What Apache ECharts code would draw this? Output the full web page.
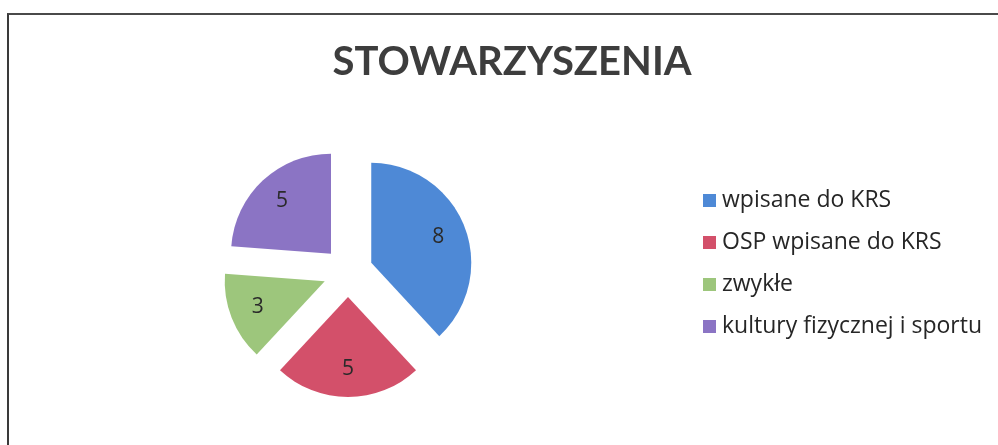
<!DOCTYPE html>
<html>
<head>
<meta charset="utf-8">
<script src="https://cdn.jsdelivr.net/npm/echarts@6/dist/echarts.min.js"></script>
<style>
html,body{margin:0;padding:0;background:#fff;}
#wrap{position:relative;width:998px;height:445px;overflow:hidden;}
#frame{position:absolute;left:7px;top:13px;width:1000px;height:500px;border-left:2px solid #3a3a3a;border-top:2px solid #4a4a4a;box-sizing:border-box;}
#chart{position:absolute;left:0;top:0;width:998px;height:445px;}
</style>
</head>
<body>
<div id="wrap"><div id="frame"></div><div id="chart"></div></div>
<script>
const titleText = 'STOWARZYSZENIA';
const categories = ['wpisane do KRS', 'OSP wpisane do KRS', 'zwykłe', 'kultury fizycznej i sportu'];
const values = [8, 5, 3, 5];
const colors = ['#4e89d6', '#d3506a', '#9dc67c', '#8b74c4'];

const chart = echarts.init(document.getElementById('chart'), null, {renderer: 'canvas'});
const mkData = (transparent) => categories.map((c, i) => ({
  name: c, value: values[i], selected: true,
  itemStyle: {color: transparent ? 'rgba(0,0,0,0)' : colors[i]}
}));
const common = {
  type: 'pie', center: [348, 272], startAngle: 90, clockwise: true,
  selectedMode: 'multiple', selectedOffset: 25, animation: false,
  emphasis: {disabled: true}, labelLine: {show: false}
};
chart.setOption({
  backgroundColor: 'transparent',
  title: {
    text: titleText, left: 507, top: 37, textAlign: 'center',
    textStyle: {fontFamily: 'Lato', fontWeight: 'bold', fontSize: 40, color: '#3d3d3d'}
  },
  legend: {
    orient: 'vertical', left: 698, top: 184, itemWidth: 13, itemHeight: 13, itemGap: 19,
    icon: 'rect', selectedMode: false, data: categories,
    textStyle: {fontFamily: 'Open Sans', fontSize: 23, color: '#262626', padding: [0, 0, 0, 1]}
  },
  series: [
    Object.assign({}, common, {
      name: 'main', radius: [0, 100], data: mkData(false), label: {show: false}
    }),
    Object.assign({}, common, {
      name: 'labels', radius: [38, 100], data: mkData(true), silent: true,
      label: {show: true, position: 'inside', formatter: '{c}', fontFamily: 'Open Sans', fontSize: 21, color: '#2a2a2a'}
    })
  ]
});
</script>
</body>
</html>
